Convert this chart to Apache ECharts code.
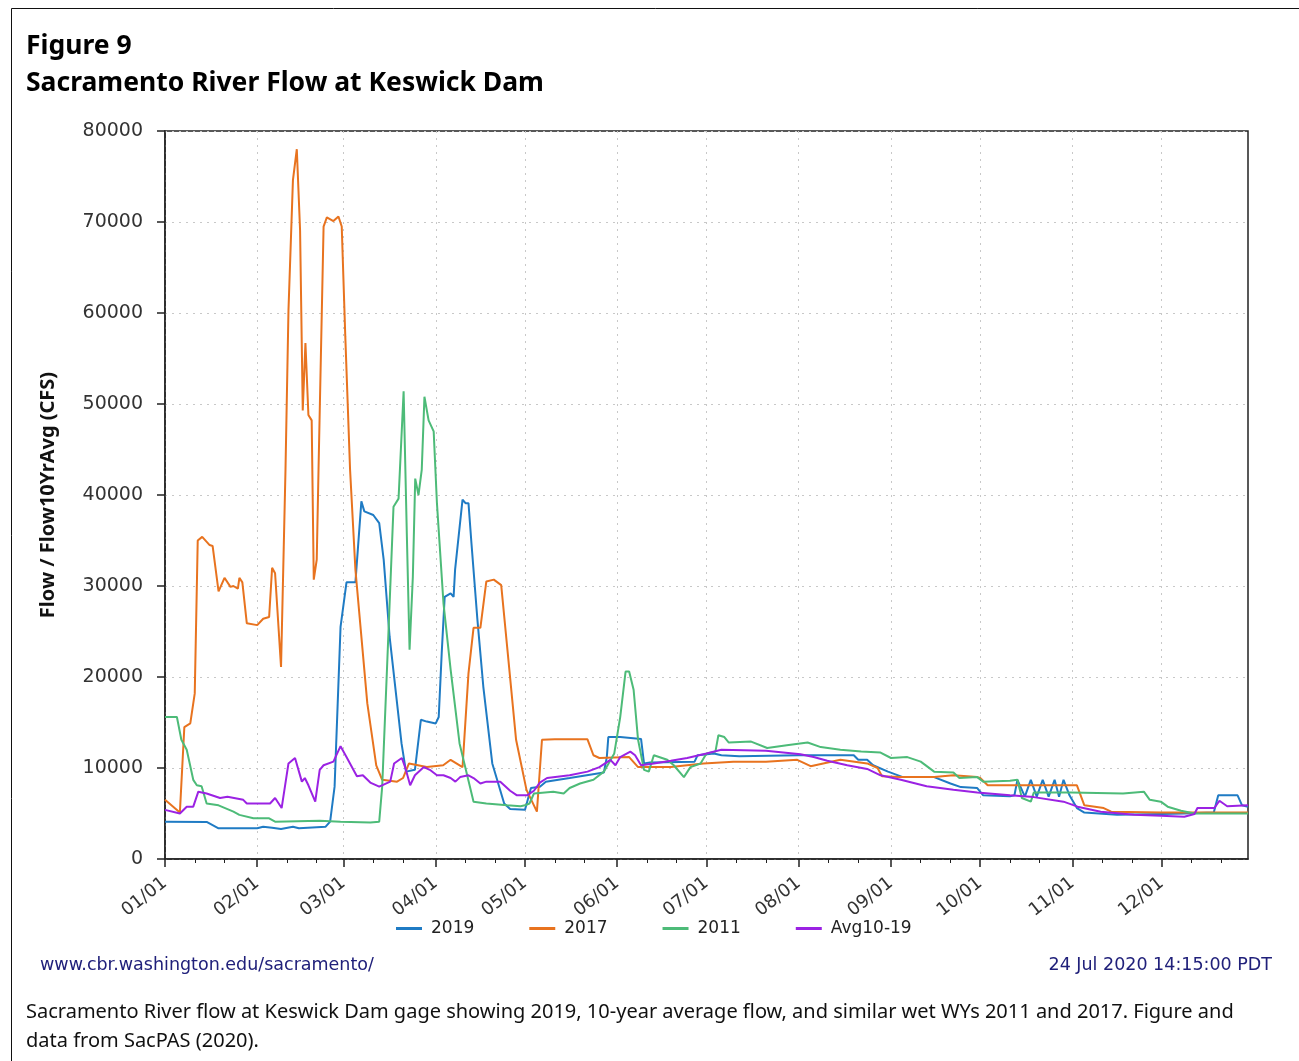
<!DOCTYPE html>
<html>
<head>
<meta charset="utf-8">
<title>Sacramento River Flow at Keswick Dam</title>
<script src="https://cdn.jsdelivr.net/npm/echarts@6/dist/echarts.min.js"></script>
<style>
  html, body { margin: 0; padding: 0; background: #fff; }
  #chart { width: 1299px; height: 1061px; }
</style>
</head>
<body>
<div id="chart"></div>
<script>
// Day-of-year positions (leap-year calendar) of each month start and their labels
const monthStartDays = [0, 31, 60, 91, 121, 152, 182, 213, 244, 274, 305, 335];
const monthLabels = ['01/01', '02/01', '03/01', '04/01', '05/01', '06/01',
                     '07/01', '08/01', '09/01', '10/01', '11/01', '12/01'];
// Minor ticks on the 11th and 21st of each month
const minorTickDays = [10, 20, 41, 51, 70, 80, 101, 111, 131, 141, 162, 172,
                       192, 202, 223, 233, 254, 264, 284, 294, 315, 325, 345, 355];
const yTicks = [0, 10000, 20000, 30000, 40000, 50000, 60000, 70000, 80000];

const seriesNames = ['2019', '2017', '2011', 'Avg10-19'];

// Daily flow (CFS), given as [day of year, flow] at the turning points of each trace
const flow2019 = [
  [0, 4100], [14, 4070], [18, 3370], [31, 3370], [33, 3550], [36, 3440], [39, 3300], [43, 3550],
  [45, 3370], [54, 3550], [55.5, 4100], [57, 7950], [59, 25500], [61, 30400], [64, 30400],
  [66, 39300], [67, 38200], [70, 37800], [72, 36900], [73.5, 32900], [75.5, 24400], [78, 17100],
  [79.5, 12700], [81, 9600], [84, 9800], [86, 15300], [88, 15100], [91, 14900], [92, 15600],
  [93, 22600], [94, 28800], [96, 29200], [97, 28800], [97.5, 31800], [100, 39500], [101, 39100],
  [102, 39100], [103, 34700], [105, 26300], [107, 18900], [110, 10500], [114, 6100], [116, 5500],
  [121, 5400], [123, 7800], [126, 7950], [128, 8500], [136, 8900], [147.5, 9500], [148.5, 11200],
  [149, 13400], [153, 13400], [160, 13200], [161, 10500], [163, 10600], [178, 10700], [179, 11400],
  [184.5, 11600], [187, 11400], [193, 11300], [213, 11400], [231.5, 11400], [233, 10900],
  [236, 10900], [238, 10300], [243, 9600], [248, 9000], [258.5, 9000], [264, 8300], [267.5, 7900],
  [273, 7800], [275, 7000], [284, 6900], [285.5, 7000], [286.5, 8700], [289, 6850], [291, 8700],
  [293, 6850], [295, 8700], [297, 6850], [299, 8700], [300.5, 6850], [302, 8700], [304, 7000],
  [306.5, 5600], [309, 5100], [320, 4850], [335, 4950], [342.5, 5000], [352.5, 5100], [354, 7000],
  [360.5, 7000], [362, 5900], [364, 5750]
];

const flow2017 = [
  [0, 6500], [5, 5100], [6.5, 14500], [8.5, 14900], [10, 18200], [11, 35000], [12.5, 35400],
  [15, 34500], [16, 34400], [18, 29400], [20, 30900], [22, 29900], [23, 30000], [24.5, 29700],
  [25, 30900], [26, 30400], [27.5, 25900], [31, 25700], [33, 26400], [35, 26600], [36, 32000],
  [37, 31400], [39, 21100], [40.5, 42800], [41.5, 60300], [43, 74600], [44.3, 78000],
  [45.4, 69100], [46.3, 49300], [47.2, 56700], [48.2, 48800], [49.3, 48200], [50, 30700],
  [51, 32900], [51.6, 42800], [53.3, 69500], [54.4, 70500], [56.6, 70100], [58.3, 70600],
  [59.4, 69500], [60.6, 57400], [62.2, 42800], [64, 31800], [68, 17100], [71, 10300], [73, 8700],
  [78, 8500], [80, 8900], [82, 10500], [88, 10100], [93.5, 10300], [96, 10900], [100, 10100],
  [102, 20400], [103.7, 25400], [106, 25400], [108, 30500], [110.5, 30700], [113, 30100],
  [115, 23300], [118, 13100], [121.5, 7600], [125, 5200], [126.7, 13100], [131, 13150],
  [142, 13150], [144, 11400], [146, 11100], [156, 11200], [159, 10100], [170, 10100], [181, 10500],
  [191, 10700], [202, 10700], [212.5, 10900], [217, 10200], [227, 10900], [236, 10500],
  [239.5, 10000], [241, 9100], [247, 9000], [258.5, 9000], [265, 9200], [273, 9000], [274, 8900],
  [276.5, 8100], [306.5, 8100], [309, 5900], [315.5, 5600], [318, 5200], [335, 5100], [364, 5100]
];

const flow2011 = [
  [0, 15600], [4, 15600], [5.5, 13100], [7.3, 12000], [9.5, 8700], [10.7, 8100], [12.3, 8000],
  [14, 6100], [18, 5900], [23, 5200], [25, 4850], [29.7, 4470], [35, 4470], [37, 4100], [52, 4210],
  [59, 4100], [69, 4000], [72, 4100], [73, 7950], [74.6, 20800], [76.8, 38700], [78.5, 39600],
  [80.2, 51400], [81.3, 35400], [82.2, 23000], [83.3, 31000], [84.1, 41800], [85.2, 40000],
  [86.3, 42800], [87.2, 50800], [88.6, 48200], [90.3, 47000], [91.4, 39100], [93.6, 28100],
  [96, 20800], [99, 12700], [103.7, 6300], [108, 6100], [115, 5900], [119.5, 5800], [121, 5900],
  [122.5, 6100], [124, 7200], [130.5, 7400], [134, 7200], [136, 7800], [139.5, 8300], [144, 8700],
  [147.5, 9600], [151, 11600], [153, 15600], [154.8, 20600], [156, 20600], [157.5, 18600],
  [159, 13100], [161, 9800], [162.6, 9600], [164.3, 11400], [168.8, 10900], [171, 10300],
  [174.4, 9000], [176.6, 10100], [180, 10500], [182, 11600], [185, 11800], [186, 13600],
  [188, 13400], [189.5, 12800], [197, 12900], [202.4, 12200], [209, 12500], [216, 12800],
  [220.4, 12300], [227, 12000], [234, 11800], [240.5, 11700], [244, 11100], [249.5, 11200],
  [254, 10700], [258.5, 9600], [265, 9500], [267, 8900], [273, 9000], [275, 8500], [284, 8600],
  [286.5, 8700], [288, 6700], [291, 6300], [292, 7300], [304.5, 7300], [322, 7200], [329, 7400],
  [331, 6500], [334.7, 6300], [337, 5750], [341.5, 5300], [346, 5000], [364, 5000]
];

const flowAvg10to19 = [
  [0, 5400], [5, 5000], [7.3, 5750], [9.5, 5750], [11.2, 7400], [14, 7200], [18.5, 6700],
  [21, 6850], [26.3, 6500], [27.5, 6100], [35.3, 6100], [37, 6700], [39.2, 5600], [41.5, 10500],
  [43.7, 11100], [46, 8500], [47, 8900], [48.2, 8100], [50.5, 6300], [52, 9800], [53.3, 10300],
  [56.6, 10700], [59, 12400], [61, 11200], [64.5, 9100], [66.5, 9200], [69, 8400], [72, 7950],
  [75.7, 8500], [77, 10500], [79.6, 11100], [80.7, 10100], [82.4, 8100], [84, 9200], [87, 10100],
  [89, 9800], [91.4, 9200], [93.6, 9200], [96, 8900], [97.6, 8500], [99.2, 9000], [102, 9200],
  [103.7, 8900], [106, 8300], [108, 8500], [112.7, 8500], [116, 7500], [118.3, 7000],
  [121.7, 7000], [124, 7500], [126, 8400], [128.4, 8900], [136, 9200], [142, 9600], [146, 10100],
  [149.7, 10900], [151.4, 10300], [153, 11200], [156.4, 11800], [158, 11400], [160, 10300],
  [164.3, 10500], [170, 10800], [175.5, 11100], [182, 11600], [187, 12000], [202, 11900],
  [213.6, 11500], [218, 11200], [222.6, 10800], [229.3, 10300], [236, 9900], [240.5, 9200],
  [247.3, 8700], [256, 8000], [265, 7600], [273, 7300], [284, 7000], [292, 6800], [302, 6300],
  [306.7, 5750], [314.5, 5200], [325.7, 4850], [334.7, 4750], [342.6, 4650], [346, 4950],
  [347, 5600], [352.7, 5600], [354.4, 6400], [357, 5800], [364, 5900]
];

const seriesData = [flow2019, flow2017, flow2011, flowAvg10to19];
const seriesColors = ['#1f7bc4', '#e8731f', '#4dbb78', '#9b22e3'];

const DAY_MAX = 364;
const labelFont = 'DejaVu Sans, sans-serif';

const chart = echarts.init(document.getElementById('chart'), null, { renderer: 'canvas' });

chart.setOption({
  backgroundColor: '#ffffff',
  animation: false,
  grid: {
    left: 165, right: 51, top: 131, bottom: 202,
    show: true, borderColor: '#222', borderWidth: 1.5, backgroundColor: 'transparent'
  },
  legend: {
    data: seriesNames,
    left: 391, top: 915,
    icon: 'rect', itemWidth: 26, itemHeight: 3, itemGap: 55,
    textStyle: { fontFamily: labelFont, fontSize: 17, color: '#222', padding: [0, 0, 0, 4] }
  },
  xAxis: [
    {
      type: 'value', min: 0, max: DAY_MAX,
      axisLine: { show: true, lineStyle: { color: '#222', width: 1.5 } },
      axisTick: { show: true, length: 8, customValues: monthStartDays, lineStyle: { color: '#222', width: 1.5 } },
      axisLabel: {
        customValues: monthStartDays,
        rotate: 38, margin: 22,
        fontFamily: labelFont, fontSize: 18, color: '#333',
        formatter: v => monthLabels[monthStartDays.indexOf(Math.round(v))] || ''
      },
      splitLine: { show: true, lineStyle: { color: '#c8c8c8', type: [2, 5], width: 1 } }
    },
    {
      type: 'value', min: 0, max: DAY_MAX, position: 'bottom',
      axisLine: { show: false },
      axisTick: { show: true, length: 4, customValues: minorTickDays, lineStyle: { color: '#222', width: 1 } },
      axisLabel: { show: false },
      splitLine: { show: false }
    }
  ],
  yAxis: {
    type: 'value', min: 0, max: 80000, interval: 10000,
    name: 'Flow / Flow10YrAvg (CFS)',
    nameLocation: 'middle', nameRotate: 90, nameGap: 107,
    nameTextStyle: { fontFamily: 'Noto Sans, sans-serif', fontWeight: 'bold', fontSize: 20, color: '#111' },
    axisLine: { show: true, lineStyle: { color: '#222', width: 1.5 } },
    axisTick: { show: true, length: 8, lineStyle: { color: '#222', width: 1.5 } },
    axisLabel: {
      margin: 22, fontFamily: labelFont, fontSize: 19, color: '#333',
      formatter: v => (yTicks.indexOf(v) >= 0 ? String(v) : '')
    },
    splitLine: { show: true, lineStyle: { color: '#c8c8c8', type: [2, 5], width: 1 } }
  },
  series: seriesNames.map((name, i) => ({
    name: name,
    type: 'line',
    xAxisIndex: 0,
    data: seriesData[i],
    showSymbol: false,
    symbol: 'none',
    color: seriesColors[i],
    lineStyle: { width: 2, color: seriesColors[i] },
    z: 2
  })),
  graphic: [
    {
      type: 'rect', silent: true, z: -1,
      shape: { x: 11.5, y: 8.5, width: 1400, height: 1200 },
      style: { fill: 'none', stroke: '#111', lineWidth: 1 }
    },
    {
      type: 'text', left: 26, top: 28,
      style: {
        text: 'Figure 9\nSacramento River Flow at Keswick Dam',
        font: 'bold 26.5px "Noto Sans", sans-serif', lineHeight: 37, fill: '#000'
      }
    },
    {
      type: 'text', left: 40, top: 956,
      style: { text: 'www.cbr.washington.edu/sacramento/', font: '17.5px "DejaVu Sans", sans-serif', fill: '#20207a' }
    },
    {
      type: 'text', right: 27, top: 956,
      style: { text: '24 Jul 2020 14:15:00 PDT', font: '17.5px "DejaVu Sans", sans-serif', fill: '#20207a' }
    },
    {
      type: 'text', left: 26, top: 998,
      style: {
        text: 'Sacramento River flow at Keswick Dam gage showing 2019, 10-year average flow, and similar wet WYs 2011 and 2017. Figure and\ndata from SacPAS (2020).',
        font: '20px "Noto Sans", sans-serif', lineHeight: 29, fill: '#111'
      }
    }
  ]
});
</script>
</body>
</html>
